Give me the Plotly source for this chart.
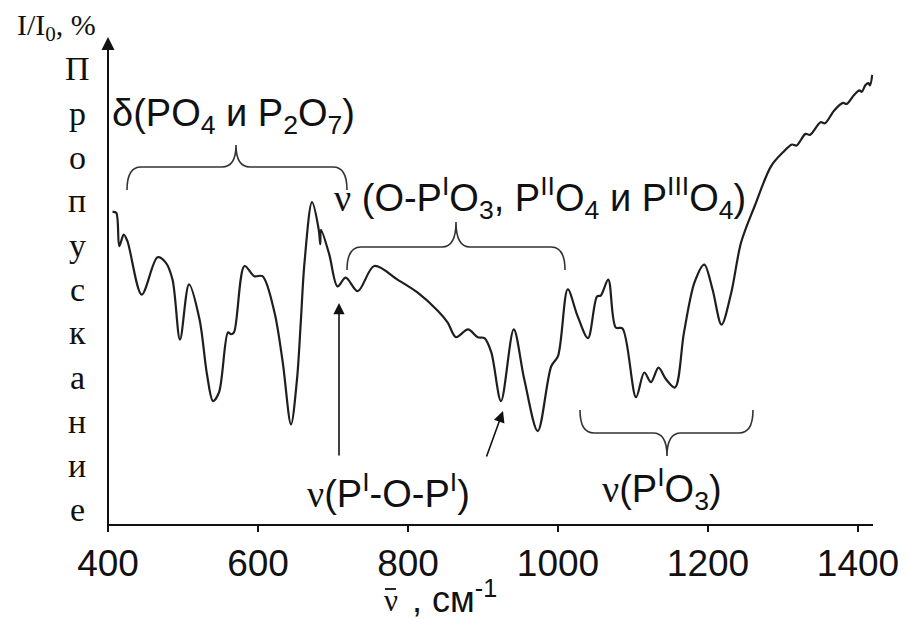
import plotly.graph_objects as go

# ---- data ----
wavenumber = [406, 411, 415, 421, 426, 445, 466, 477, 486, 496, 508, 522, 532, 540, 548,
              560, 564, 568, 582, 595, 606, 622, 633, 644, 652, 657, 662, 672, 681, 683,
              684, 695, 706, 717, 733, 755, 786, 813, 840, 853, 864, 880, 893, 902, 911,
              924, 941, 955, 973, 991, 1000, 1013, 1026, 1040, 1052, 1057, 1067, 1077, 1086,
              1104, 1115, 1124, 1134, 1144, 1156, 1168, 1182, 1195, 1206, 1218, 1231, 1244,
              1262, 1284, 1300, 1312, 1318, 1330, 1336, 1350, 1356, 1368, 1380, 1385, 1395,
              1402, 1405, 1410, 1414, 1416, 1419]
transmittance = [64.5, 64.3, 57.4, 59.8, 58.4, 47.4, 55.1, 54.0, 50.5, 38.1, 49.5, 42.3, 30.9,
                 25.4, 27.2, 39.6, 39.2, 39.6, 53.3, 51.2, 51.2, 43.7, 33.4, 20.6, 29.9, 41.6,
                 54.0, 66.5, 60.8, 57.8, 60.8, 55.7, 49.1, 50.9, 48.1, 53.3, 50.5, 47.8, 44.0,
                 41.6, 38.6, 40.2, 38.6, 38.4, 35.5, 25.4, 40.2, 29.9, 19.2, 32.6, 34.7, 48.5,
                 43.0, 38.4, 47.0, 47.2, 50.5, 40.6, 40.4, 26.2, 31.3, 29.3, 32.3, 29.9, 28.2,
                 39.6, 49.9, 53.6, 48.5, 41.2, 47.8, 58.1, 65.6, 73.9, 76.8, 78.4, 78.2, 80.6,
                 80.4, 83.0, 82.8, 85.4, 87.0, 86.8, 88.7, 89.6, 89.3, 90.7, 91.1, 90.6, 92.8]
x_ticks = [400, 600, 800, 1000, 1200, 1400]
y_letters = list("Пропускание")

# ---- layout geometry ----
L, R, T, B = 108, 35, 40, 95
W, H = 908, 619
X0, X1 = 400, 1420
Y0, Y1 = 0, 100
sx = (W - L - R) / (X1 - X0)
sy = (H - T - B) / (Y1 - Y0)


def X(px):
    return X0 + (px - L) / sx


def Y(py):
    return Y0 + (H - B - py) / sy


def PX(px):
    return (px - L) / (W - L - R)


def PY(py):
    return (H - B - py) / (H - T - B)


SANS = "Liberation Sans, Arial, sans-serif"
SERIF = "Liberation Serif, Times New Roman, serif"
INK = "#111111"

fig = go.Figure()
fig.add_trace(go.Scatter(x=wavenumber, y=transmittance, mode="lines",
                         line=dict(color="#1e1e1e", width=2.2, shape="spline", smoothing=0.9),
                         hoverinfo="x+y", showlegend=False))

annotations = []


def label(text, px, py, family, size, xanchor="center"):
    annotations.append(dict(x=PX(px), y=PY(py), xref="paper", yref="paper", text=text,
                            xanchor=xanchor, yanchor="middle", showarrow=False,
                            font=dict(family=family, size=size, color=INK)))


# y axis with arrow
annotations.append(dict(x=PX(108), y=PY(37), ax=0, ay=494, xref="paper", yref="paper",
                        showarrow=True, arrowhead=2, arrowsize=1.3, arrowwidth=2, arrowcolor=INK,
                        standoff=0, text=""))
label("I/I<sub>0</sub>, %", 56, 27, SERIF, 30)
for i, ch in enumerate(y_letters):
    label(ch, 77, 69 + 44 * i, SERIF, 34)

NU = '<span style="font-family:Liberation Serif">ν</span>'
FS = 38
label("δ(PO<sub>4</sub> и P<sub>2</sub>O<sub>7</sub>)", 233, 116, SANS, FS)
label(NU + " (O-P<sup>I</sup>O<sub>3</sub>, P<sup>II</sup>O<sub>4</sub> и P<sup>III</sup>O<sub>4</sub>)",
      540, 198, SANS, FS)
label(NU + "(P<sup>I</sup>-O-P<sup>I</sup>)", 388, 491, SANS, FS)
label(NU + "(P<sup>I</sup>O<sub>3</sub>)", 662, 489, SANS, FS)

# x axis title: ν with an overbar, then ", см-1"
label("ν", 391, 600, SERIF, 31)
label(", см<sup>-1</sup>", 410, 597, SANS, 36, xanchor="left")

# arrows pointing to bands
annotations.append(dict(x=X(339), y=Y(303), ax=0, ay=154, xref="x", yref="y", text="",
                        showarrow=True, arrowhead=2, arrowsize=1.4, arrowwidth=1.6,
                        arrowcolor=INK, standoff=0))
annotations.append(dict(x=X(503), y=Y(411), ax=-17, ay=47, xref="x", yref="y", text="",
                        showarrow=True, arrowhead=2, arrowsize=1.4, arrowwidth=1.6,
                        arrowcolor=INK, standoff=0))


def brace(px0, px1, ptip, py_end, py_h, py_tip, r=14):
    x0, x1, xt = X(px0), X(px1), X(ptip)
    ye, yh, yt = Y(py_end), Y(py_h), Y(py_tip)
    dx = r / sx
    return (f"M {x0},{ye} Q {x0},{yh} {x0 + dx},{yh} L {xt - dx},{yh} "
            f"Q {xt},{yh} {xt},{yt} Q {xt},{yh} {xt + dx},{yh} "
            f"L {x1 - dx},{yh} Q {x1},{yh} {x1},{ye}")


shapes = []
for args in [(127, 347, 236, 190, 167, 145), (347, 565, 456, 270, 247, 222),
             (580, 753, 667, 410, 433, 456)]:
    shapes.append(dict(type="path", xref="x", yref="y", path=brace(*args),
                       line=dict(color="#333333", width=1.6)))
# overbar of the wavenumber symbol
shapes.append(dict(type="line", xref="paper", yref="paper", x0=PX(385), x1=PX(396),
                   y0=PY(589), y1=PY(589), line=dict(color=INK, width=1.8)))

fig.update_layout(
    width=W, height=H, margin=dict(l=L, r=R, t=T, b=B),
    paper_bgcolor="white", plot_bgcolor="white",
    annotations=annotations, shapes=shapes,
    xaxis=dict(range=[X0, X1], showline=True, linecolor=INK, linewidth=2, ticks="outside",
               ticklen=6, tickwidth=2, tickcolor=INK, tickvals=x_ticks, showgrid=False,
               zeroline=False, automargin=False,
               tickfont=dict(family=SANS, size=37, color=INK)),
    yaxis=dict(range=[Y0, Y1], visible=False, showgrid=False, zeroline=False, automargin=False),
)
fig.write_html("out.html")
